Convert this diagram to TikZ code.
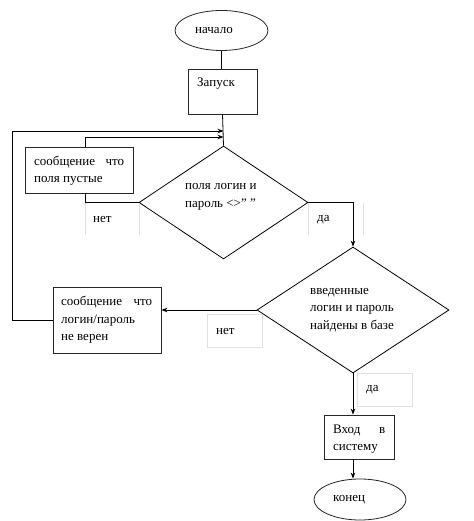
\documentclass[tikz,border=0pt]{standalone}
\usepackage{fontspec}
\setmainfont{Liberation Serif}
\usetikzlibrary{arrows.meta, positioning, shapes.geometric}

\begin{document}
\begin{tikzpicture}[x=1pt, y=-1pt,
  bloc/.style={draw=black!85, line width=0.8pt, inner sep=0pt},
  borne/.style={bloc, ellipse},
  test/.style={bloc, diamond, draw=black},
  texte/.style={anchor=west, inner sep=0pt, align=left, font=\fontsize{13}{17.5}\selectfont},
  cadre/.style={draw=black!12, line width=0.6pt, inner sep=0pt},
  ligne/.style={line width=0.8pt},
  fleche/.style={ligne, -{Stealth[length=6pt, width=4.5pt]}}
]
  \useasboundingbox (0,0) rectangle (473,521);

  % blocs
  \node[borne, minimum width=93pt, minimum height=40pt] (debut) at (221.5,30.5) {};
  \node[bloc, minimum width=69pt, minimum height=45pt] (lancer) at (222.5,91.5) {};
  \node[test, minimum width=169pt, minimum height=113pt] (test1) at (223.5,202.5) {};
  \node[bloc, minimum width=108pt, minimum height=46pt] (msg1) at (79,170) {};
  \node[test, minimum width=192pt, minimum height=126pt] (test2) at (353,310) {};
  \node[bloc, minimum width=108pt, minimum height=66pt] (msg2) at (107,320) {};
  \node[bloc, minimum width=70pt, minimum height=44pt] (entree) at (359,437) {};
  \node[borne, minimum width=92pt, minimum height=41pt] (fin) at (360,499.5) {};

  % textes
  \node[texte] (tdebut) at (195,31) {начало};
  \node[texte] (tlancer) at (197,84) {Запуск};
  \node[texte] (tmsg1) at (34,171) {\makebox[90pt][l]{сообщение\hfill что}\\поля пустые};
  \node[texte] (ttest1) at (185,197) {поля логин и\\пароль <>" "};
  \node[texte] (ttest2) at (310,310) {введенные\\логин и пароль\\найдены в базе};
  \node[texte] (tmsg2) at (61,320) {\makebox[91pt][l]{сообщение\hfill что}\\логин/пароль\\не верен};
  \node[texte] (tentree) at (333,439) {\makebox[52pt][l]{Вход\hfill в}\\систему};
  \node[texte] (tfin) at (333,500) {конец};

  % etiquettes
  \node[inner sep=0pt, minimum width=54pt, minimum height=32pt] (cnet1) at (112,219) {};
  \node[inner sep=0pt, minimum width=55pt, minimum height=32pt] (cda1) at (335.5,219) {};
  \node[cadre, minimum width=55pt, minimum height=33pt] (cnet2) at (234.5,330.5) {};
  \node[cadre, minimum width=55pt, minimum height=33pt] (cda2) at (384.5,389.5) {};
  \draw[cadre] (cnet1.north west) -- (cnet1.south west) (cnet1.north east) -- (cnet1.south east);
  \draw[cadre] (cda1.north west) -- (cda1.south west) (cda1.north east) -- (cda1.south east);
  \node[texte] (net1) at (93,220) {нет};
  \node[texte] (da1) at (317,220) {да};
  \node[texte] (net2) at (216,331) {нет};
  \node[texte] (da2) at (366,390) {да};

  % liaisons
  \coordinate (retour1) at (12,131);
  \coordinate (retour2) at (85,137);
  \draw[ligne] (debut.south) -- (debut.south |- lancer.north);
  \draw[ligne] (lancer.south) -- (test1.north);
  \draw[fleche] (msg2.west) -| (retour1) -- (retour1 -| test1.north);
  \draw[fleche] (retour2 |- msg1.north) -- (retour2) -- (retour2 -| test1.north);
  \draw[ligne] (test1.west) -| (retour2 |- msg1.south);
  \draw[fleche] (test1.east) -| (test2.north);
  \draw[fleche] (test2.west) -- (test2.west -| msg2.east);
  \draw[fleche] (test2.south) -- (test2.south |- entree.north);
  \draw[fleche] (test2.south |- entree.south) -- (test2.south |- fin.north);
\end{tikzpicture}
\end{document}
